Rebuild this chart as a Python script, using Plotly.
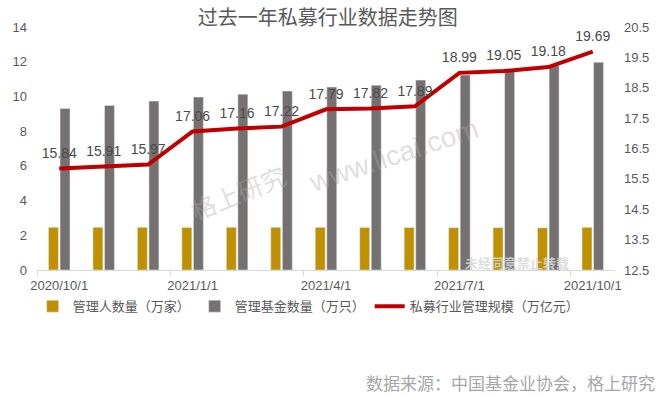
import plotly.graph_objects as go

months = ["2020/10/1", "2020/11/1", "2020/12/1", "2021/1/1", "2021/2/1", "2021/3/1",
          "2021/4/1", "2021/5/1", "2021/6/1", "2021/7/1", "2021/8/1", "2021/9/1", "2021/10/1"]
managers = [2.46, 2.46, 2.46, 2.45, 2.46, 2.46, 2.46, 2.45, 2.45, 2.44, 2.44, 2.43, 2.46]
funds = [9.31, 9.48, 9.73, 9.96, 10.13, 10.31, 10.54, 10.65, 10.94, 11.23, 11.55, 11.78, 11.97]
scale = [15.84, 15.91, 15.97, 17.06, 17.16, 17.22, 17.79, 17.82, 17.89, 18.99, 19.05, 19.18, 19.69]
tick_labels = ["2020/10/1", "2021/1/1", "2021/4/1", "2021/7/1", "2021/10/1"]

x = list(range(len(months)))
label_pos = [x[months.index(t)] for t in tick_labels]
boundary_pos = [p - 0.5 for p in label_pos]

FONT = "Liberation Sans, Noto Sans CJK SC, sans-serif"
CJK = "Noto Sans CJK SC, sans-serif"
TXT = "#595959"

fig = go.Figure()
fig.add_trace(go.Bar(x=x, y=managers, name="管理人数量（万家）", marker_color="#bf9000",
                     yaxis="y"))
fig.add_trace(go.Bar(x=x, y=funds, name="管理基金数量（万只）", marker_color="#767171",
                     yaxis="y"))
fig.add_trace(go.Scatter(x=x, y=scale, name="私募行业管理规模（万亿元）", mode="lines+markers+text",
                         line=dict(color="#c00000", width=4), yaxis="y2",
                         marker=dict(size=10, color="rgba(0,0,0,0)"),
                         text=[f"{v:.2f}" for v in scale], textposition="top center",
                         textfont=dict(size=14, color="#4a4a4a", family=FONT)))
# invisible trace to anchor tick-mark axis
fig.add_trace(go.Scatter(x=[x[0]], y=[0], xaxis="x2", yaxis="y", mode="markers",
                         marker=dict(opacity=0), showlegend=False, hoverinfo="skip"))

rng = [-0.5, len(months) - 0.5]
fig.update_layout(
    width=665, height=397,
    margin=dict(l=37, r=50, t=27, b=127),
    paper_bgcolor="white", plot_bgcolor="white",
    barmode="group", bargap=0.48, bargroupgap=0.14,
    font=dict(family=FONT, size=13, color=TXT),
    title=dict(text="过去一年私募行业数据走势图", x=0.493, xanchor="center", y=1 - 18 / 397,
               yanchor="middle", font=dict(family=CJK, size=20, color=TXT)),
    xaxis=dict(range=rng, tickmode="array", tickvals=label_pos, ticktext=tick_labels,
               ticks="", showgrid=False, zeroline=False, showline=True, ticklabelstandoff=3,
               linecolor="#d9d9d9", linewidth=1, tickfont=dict(size=13, color=TXT)),
    xaxis2=dict(range=rng, overlaying="x", tickmode="array", tickvals=boundary_pos,
                ticks="outside", ticklen=5, tickcolor="#d9d9d9", showticklabels=False,
                showgrid=False, zeroline=False, showline=False, side="bottom", anchor="y"),
    yaxis=dict(range=[0, 14], dtick=2, showgrid=False, zeroline=False, showline=False,
               ticks="", ticklabelstandoff=9, tickfont=dict(size=13, color=TXT)),
    yaxis2=dict(range=[12.5, 20.5], tickmode="array",
                tickvals=[12.5, 13.5, 14.5, 15.5, 16.5, 17.5, 18.5, 19.5, 20.5],
                ticktext=["12.5", "13.5", "14.5", "15.5", "16.5", "17.5", "18.5", "19.5", "20.5"],
                overlaying="y", side="right", showgrid=False, zeroline=False, ticklabelstandoff=8,
                showline=False, ticks="", tickfont=dict(size=13, color=TXT)),
    legend=dict(orientation="h", x=0.47, xanchor="center", y=-35 / 243 - 0.005, yanchor="middle",
                font=dict(family=CJK, size=13, color=TXT), traceorder="normal",
                itemwidth=30, bgcolor="rgba(0,0,0,0)"),
    showlegend=True,
)

fig.add_annotation(text="数据来源：中国基金业协会，格上研究", xref="paper", yref="paper",
                   x=(657 - 37) / 578, y=-(382 - 270) / 243, xanchor="right", yanchor="middle",
                   showarrow=False, font=dict(family=CJK, size=17, color="#a6a6a6"))
fig.add_annotation(text="格上研究", xref="paper", yref="paper",
                   x=(238 - 37) / 578, y=(270 - 192) / 243, xanchor="center", yanchor="middle",
                   showarrow=False, textangle=-22,
                   font=dict(family=CJK, size=25, color="rgba(170,170,170,0.4)"))
fig.add_annotation(text="www.licai.com", xref="paper", yref="paper",
                   x=(393 - 37) / 578, y=(270 - 155) / 243, xanchor="center", yanchor="middle",
                   showarrow=False, textangle=-18.5,
                   font=dict(family=FONT, size=28, color="rgba(170,170,170,0.4)"))
fig.add_annotation(text="<b>未经同意禁止转载</b>", xref="paper", yref="paper",
                   x=(517 - 37) / 578, y=(270 - 262) / 243, xanchor="center", yanchor="middle",
                   showarrow=False,
                   font=dict(family=CJK, size=13, color="rgba(215,215,215,0.85)"))

fig.write_html("out.html", config={"displayModeBar": False},
               post_script="document.body.style.margin='0';")
